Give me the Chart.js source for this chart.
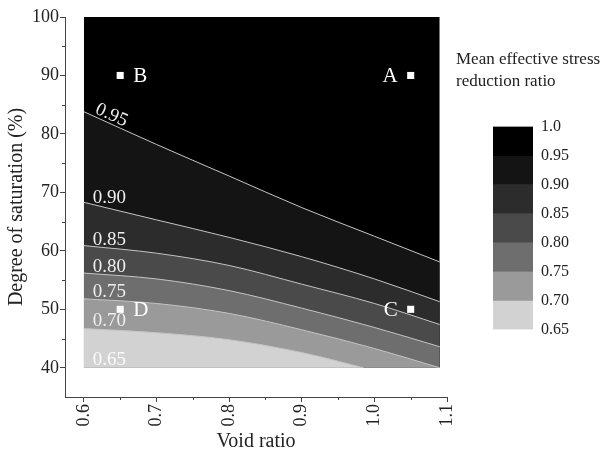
<!DOCTYPE html>
<html>
<head>
<meta charset="utf-8">
<script src="https://cdn.jsdelivr.net/npm/chart.js@4.4.1/dist/chart.umd.min.js"></script>
<style>
  html, body { margin: 0; padding: 0; background: #fff; overflow: hidden; }
  #wrap { position: relative; width: 613px; height: 456px; }
  #main { position: absolute; left: 0; top: 0; }
  #scaleBar { position: absolute; left: 493px; top: 109px; }
</style>
</head>
<body>
<div id="wrap">
  <canvas id="main" width="613" height="456"></canvas>
  <canvas id="scaleBar" width="90" height="238"></canvas>
</div>
<script>
// contour lines of the stress reduction ratio, saturation (%) read at each void ratio
var voidRatio = [0.6, 0.7, 0.8, 0.9, 1.0, 1.09];
var satTop = [100, 100, 100, 100, 100, 100];
var sat095 = [83.8, 78.2, 72.8, 67.4, 62.5, 58.1];
var sat090 = [68.3, 65.3, 62.3, 59.0, 55.2, 51.3];
var sat085 = [60.9, 59.6, 57.5, 54.3, 51.0, 47.4];
var sat080 = [56.2, 55.2, 53.2, 50.2, 46.9, 43.6];
var sat075 = [51.8, 51.0, 49.3, 46.5, 43.3, 40.0];
// the 0.70 line runs into the bottom edge before e = 1.09
var voidRatio070 = [0.6, 0.7, 0.8, 0.9, 0.985];
var sat070 = [46.7, 46.0, 44.8, 42.6, 40.0];

var levelNames = ['0.95', '0.90', '0.85', '0.80', '0.75', '0.70', '0.65'];
var labelE = [0.638, 0.635, 0.635, 0.635, 0.635, 0.635, 0.635];
var labelS = [83.2, 69.0, 61.8, 57.2, 52.9, 48.0, 41.3];

// sample points
var pointNames = ['A', 'B', 'C', 'D'];
var pointE = [1.05, 0.65, 1.05, 0.65];
var pointS = [90, 90, 50, 50];

// axis ticks
var xTicks = [0.6, 0.7, 0.8, 0.9, 1.0, 1.1];
var xMinor = [0.65, 0.75, 0.85, 0.95, 1.05];
var yTicks = [40, 50, 60, 70, 80, 90, 100];
var yMinor = [45, 55, 65, 75, 85, 95];

// colour scale
var barTicks = [0.65, 0.70, 0.75, 0.80, 0.85, 0.90, 0.95, 1.0];
var barRanges = [[0.95, 1.0], [0.90, 0.95], [0.85, 0.90], [0.80, 0.85], [0.75, 0.80], [0.70, 0.75], [0.65, 0.70]];

var bandColors = ['#000000', '#141414', '#2c2c2c', '#4a4a4a', '#6e6e6e', '#9a9a9a', '#d2d2d2'];
var serif = 'Liberation Serif';
var ink = '#222222';

function toPts(xs, ys) {
    return xs.map(function(x, i) { return {x: x, y: ys[i]}; });
}

var curves = [
    toPts(voidRatio, satTop),
    toPts(voidRatio, sat095),
    toPts(voidRatio, sat090),
    toPts(voidRatio, sat085),
    toPts(voidRatio, sat080),
    toPts(voidRatio, sat075),
    toPts(voidRatio070, sat070)
];

var datasets = curves.map(function(pts, i) {
    return {
        data: pts,
        showLine: true,
        pointRadius: 0,
        borderColor: '#c4c4c4',
        borderWidth: i === 0 ? 0 : 1,
        backgroundColor: bandColors[i],
        fill: {value: 40},
        cubicInterpolationMode: 'monotone',
        order: 10 - i
    };
});

datasets.push({
    data: toPts(pointE, pointS),
    pointStyle: 'rect',
    pointRadius: 5,
    backgroundColor: '#ffffff',
    borderColor: '#ffffff',
    borderWidth: 0,
    order: 0
});

var labelRotation = [0.42, 0, 0, 0, 0, 0, 0];

var overlay = {
    id: 'overlay',
    afterDatasetsDraw: function(chart) {
        var ctx = chart.ctx, xs = chart.scales.x, ys = chart.scales.y;
        ctx.save();
        // contour level labels
        ctx.font = '19px "' + serif + '"';
        ctx.textAlign = 'center';
        ctx.textBaseline = 'middle';
        levelNames.forEach(function(t, i) {
            ctx.save();
            ctx.translate(xs.getPixelForValue(labelE[i]), ys.getPixelForValue(labelS[i]));
            ctx.rotate(labelRotation[i]);
            ctx.fillStyle = i === 6 ? '#fafafa' : '#eeeeee';
            ctx.fillText(t, 0, 0);
            ctx.restore();
        });
        // point names
        ctx.font = '21px "' + serif + '"';
        ctx.fillStyle = '#ffffff';
        pointNames.forEach(function(t, i) {
            var px = xs.getPixelForValue(pointE[i]);
            var py = ys.getPixelForValue(pointS[i]);
            if (pointE[i] > 0.8) {
                ctx.textAlign = 'right';
                ctx.fillText(t, px - 13, py + 1);
            } else {
                ctx.textAlign = 'left';
                ctx.fillText(t, px + 13, py + 1);
            }
        });
        ctx.restore();
    },
    afterDraw: function(chart) {
        var ctx = chart.ctx, xs = chart.scales.x, ys = chart.scales.y;
        var area = chart.chartArea;
        ctx.save();
        ctx.strokeStyle = '#444444';
        ctx.lineWidth = 1;
        ctx.beginPath();
        xMinor.forEach(function(v) {
            var px = Math.round(xs.getPixelForValue(v)) + 0.5;
            ctx.moveTo(px, area.bottom);
            ctx.lineTo(px, area.bottom + 3);
        });
        yMinor.forEach(function(v) {
            var py = Math.round(ys.getPixelForValue(v)) + 0.5;
            ctx.moveTo(area.left - 3, py);
            ctx.lineTo(area.left, py);
        });
        ctx.stroke();
        // colour scale heading
        ctx.fillStyle = ink;
        ctx.font = '17px "' + serif + '"';
        ctx.textAlign = 'left';
        ctx.textBaseline = 'middle';
        ctx.fillText('Mean effective stress', 456, 60);
        ctx.fillText('reduction ratio', 456, 82);
        ctx.restore();
    }
};

new Chart(document.getElementById('main'), {
    type: 'scatter',
    data: {datasets: datasets},
    plugins: [overlay],
    options: {
        responsive: false,
        animation: false,
        layout: {padding: {top: 17, right: 166, left: 0, bottom: 0}},
        plugins: {legend: {display: false}, tooltip: {enabled: false}},
        scales: {
            x: {
                type: 'linear',
                min: 0.574,
                max: 1.1,
                afterBuildTicks: function(s) { s.ticks = xTicks.map(function(v) { return {value: v}; }); },
                afterFit: function(s) { s.height = 59; },
                grid: {drawOnChartArea: false, tickLength: 5, color: '#444444'},
                border: {color: '#444444', width: 1},
                ticks: {
                    minRotation: 90, maxRotation: 90, padding: 2,
                    color: ink, font: {family: serif, size: 18},
                    callback: function(v) { return v.toFixed(1); }
                },
                title: {display: true, text: 'Void ratio', color: ink,
                        font: {family: serif, size: 20}, padding: {top: 0, bottom: 2}}
            },
            y: {
                type: 'linear',
                min: 35,
                max: 100,
                afterBuildTicks: function(s) { s.ticks = yTicks.map(function(v) { return {value: v}; }); },
                afterFit: function(s) { s.width = 65; },
                grid: {drawOnChartArea: false, tickLength: 5, color: '#444444'},
                border: {color: '#444444', width: 1},
                ticks: {
                    padding: 1, color: ink, font: {family: serif, size: 18},
                    callback: function(v) { return String(v); }
                },
                title: {display: true, text: 'Degree of saturation (%)', color: ink,
                        font: {family: serif, size: 20}, padding: {top: 5, bottom: 0}}
            }
        }
    }
});

// colour scale bar
new Chart(document.getElementById('scaleBar'), {
    type: 'bar',
    data: {
        labels: [''],
        datasets: barRanges.map(function(r, i) {
            return {data: [r], backgroundColor: bandColors[i], borderWidth: 0,
                    barPercentage: 1, categoryPercentage: 1, grouped: false};
        })
    },
    options: {
        responsive: false,
        animation: false,
        layout: {padding: {top: 12, bottom: 12, left: 0, right: 0}},
        plugins: {legend: {display: false}, tooltip: {enabled: false}},
        scales: {
            x: {display: false},
            y: {
                position: 'right',
                min: 0.65,
                max: 1.0,
                afterBuildTicks: function(s) { s.ticks = barTicks.map(function(v) { return {value: v}; }); },
                afterFit: function(s) { s.width = 50; },
                grid: {display: false, drawTicks: false},
                border: {display: false},
                ticks: {
                    padding: 8, color: ink, font: {family: serif, size: 16},
                    callback: function(v) { return v === 1 ? '1.0' : v.toFixed(2); }
                }
            }
        }
    }
});
</script>
</body>
</html>
